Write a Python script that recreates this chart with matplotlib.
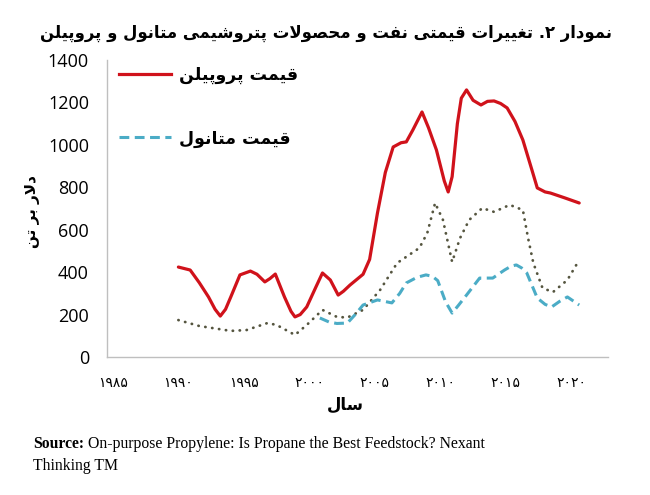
import matplotlib
matplotlib.use("Agg")
import matplotlib.pyplot as plt
from matplotlib.lines import Line2D

# ---------------- Arabic/Persian shaping (presentation forms) ----------------
FORMS = {  # iso, fin, ini, med
    '\u0627': ('\uFE8D', '\uFE8E', None, None),
    '\u0628': ('\uFE8F', '\uFE90', '\uFE91', '\uFE92'),
    '\u062A': ('\uFE95', '\uFE96', '\uFE97', '\uFE98'),
    '\u062D': ('\uFEA1', '\uFEA2', '\uFEA3', '\uFEA4'),
    '\u062F': ('\uFEA9', '\uFEAA', None, None),
    '\u0631': ('\uFEAD', '\uFEAE', None, None),
    '\u0633': ('\uFEB1', '\uFEB2', '\uFEB3', '\uFEB4'),
    '\u0634': ('\uFEB5', '\uFEB6', '\uFEB7', '\uFEB8'),
    '\u0635': ('\uFEB9', '\uFEBA', '\uFEBB', '\uFEBC'),
    '\u063A': ('\uFECD', '\uFECE', '\uFECF', '\uFED0'),
    '\u0641': ('\uFED1', '\uFED2', '\uFED3', '\uFED4'),
    '\u0642': ('\uFED5', '\uFED6', '\uFED7', '\uFED8'),
    '\u0644': ('\uFEDD', '\uFEDE', '\uFEDF', '\uFEE0'),
    '\u0645': ('\uFEE1', '\uFEE2', '\uFEE3', '\uFEE4'),
    '\u0646': ('\uFEE5', '\uFEE6', '\uFEE7', '\uFEE8'),
    '\u0648': ('\uFEED', '\uFEEE', None, None),
    '\u067E': ('\uFB56', '\uFB57', '\uFB58', '\uFB59'),
    '\u06CC': ('\uFBFC', '\uFBFD', '\uFBFE', '\uFBFF'),
}


def dual(c):
    return c in FORMS and FORMS[c][2] is not None


def shape(text):
    out = []
    chars = list(text)
    i = 0
    n = len(chars)
    while i < n:
        c = chars[i]
        if c not in FORMS:
            out.append(c)
            i += 1
            continue
        prev = chars[i - 1] if i > 0 else None
        cp = prev is not None and dual(prev)
        if c == '\u0644' and i + 1 < n and chars[i + 1] == '\u0627':
            out.append('\uFEFC' if cp else '\uFEFB')
            i += 2
            continue
        nxt = chars[i + 1] if i + 1 < n else None
        cn = dual(c) and nxt is not None and nxt in FORMS
        iso, fin, ini, med = FORMS[c]
        if cp and cn:
            out.append(med)
        elif cp:
            out.append(fin)
        elif cn:
            out.append(ini)
        else:
            out.append(iso)
        i += 1
    return ''.join(out)[::-1]


# ---------------- data ----------------
title_text = "نمودار ۲. تغییرات قیمتی نفت و محصولات پتروشیمی متانول و پروپیلن"
propylene_label = "قیمت پروپیلن"
methanol_label = "قیمت متانول"
x_label = "سال"
y_label = "دلار بر تن"
x_ticks = [1985, 1990, 1995, 2000, 2005, 2010, 2015, 2020]
x_tick_labels = ["۱۹۸۵", "۱۹۹۰", "۱۹۹۵", "۲۰۰۰", "۲۰۰۵", "۲۰۱۰", "۲۰۱۵", "۲۰۲۰"]
y_ticks = [0, 200, 400, 600, 800, 1000, 1200, 1400]

propylene_years = [1990.0, 1990.9, 1991.6, 1992.3, 1992.8, 1993.2, 1993.6, 1994.0, 1994.7, 1995.5,
                   1996.0, 1996.6, 1997.0, 1997.4, 1998.1, 1998.6, 1998.9, 1999.3, 1999.8, 2000.5,
                   2001.0, 2001.6, 2002.2, 2002.6, 2003.1, 2004.1, 2004.6, 2005.2, 2005.8, 2006.4,
                   2007.0, 2007.4, 2007.9, 2008.6, 2009.1, 2009.7, 2010.3, 2010.6, 2010.9, 2011.3,
                   2011.6, 2012.0, 2012.5, 2013.1, 2013.6, 2014.1, 2014.6, 2015.1, 2015.7, 2016.3,
                   2017.0, 2017.4, 2018.0, 2018.4, 2019.5, 2020.6]
propylene_prices = [424, 410, 350, 283, 225, 193, 225, 283, 387, 405,
                    390, 354, 370, 391, 283, 215, 189, 200, 236, 330,
                    396, 363, 292, 310, 339, 390, 460, 679, 870, 990,
                    1010, 1014, 1070, 1155, 1080, 976, 830, 778, 850, 1100,
                    1220, 1259, 1210, 1188, 1205, 1207, 1195, 1174, 1110, 1023,
                    880, 797, 778, 773, 750, 726]

methanol_years = [2000.8, 2001.5, 2002.1, 2002.9, 2003.5, 2004.1, 2005.2, 2006.3, 2006.9, 2007.4,
                  2008.2, 2008.9, 2009.4, 2009.8, 2010.4, 2010.9, 2011.4, 2012.0, 2013.0, 2014.0,
                  2014.9, 2015.4, 2015.8, 2016.2, 2016.6, 2017.4, 2018.0, 2018.5, 2019.1, 2019.7,
                  2020.6]
methanol_prices = [184, 165, 158, 160, 200, 245, 269, 255, 300, 349,
                   375, 387, 380, 360, 260, 207, 245, 292, 372, 372,
                   410, 428, 434, 420, 396, 278, 248, 236, 262, 283,
                   245]

oil_years = [1990.0, 1991.6, 1994.0, 1995.2, 1996.8, 1997.5, 1998.9, 1999.8,
             2001.0, 2002.1, 2002.9, 2004.1, 2005.4, 2006.7, 2008.4, 2009.0,
             2009.6, 2010.2, 2010.9, 2011.5, 2012.2, 2013.2, 2014.1, 2015.3, 2016.3,
             2016.7, 2017.1, 2017.8, 2018.6, 2019.7, 2020.6]
oil_prices = [174, 146, 123, 127, 160, 151, 104, 151,
              222, 189, 186, 222, 316, 443, 514, 584,
              726, 646, 448, 560, 646, 702, 684, 717, 693,
              560, 443, 325, 306, 363, 457]

# ---------------- figure ----------------
W, H = 650, 495
fig = plt.figure(figsize=(W / 100, H / 100), dpi=100)
ax = fig.add_axes([107 / W, 1 - 357 / H, (608 - 107) / W, (357 - 60) / H])

red = '#d0121b'
blue = '#4bacc6'
olive = '#55553f'
dash_style = (0, (3.2, 1.8))

ax.plot(oil_years, oil_prices, color=olive, lw=2.0, linestyle=(0, (0.1, 2.4)),
        dash_capstyle='round')
ax.plot(methanol_years, methanol_prices, color=blue, lw=2.2, linestyle=dash_style)
ax.plot(propylene_years, propylene_prices, color=red, lw=2.3, solid_joinstyle='round',
        solid_capstyle='round')

ax.set_xlim(1984.55, 2022.8)
ax.set_ylim(0, 1400)
ax.set_yticks(y_ticks)
ax.set_yticklabels([str(v) for v in y_ticks], fontfamily='Open Sans', fontsize=13)
ax.set_xticks(x_ticks)
ax.set_xticklabels(x_tick_labels, fontfamily='DejaVu Sans', fontsize=10)
ax.tick_params(axis='both', length=0)
ax.tick_params(axis='y', pad=13)
ax.tick_params(axis='x', pad=14)
for s in ['top', 'right']:
    ax.spines[s].set_visible(False)
for s in ['left', 'bottom']:
    ax.spines[s].set_color('#bfbfbf')
    ax.spines[s].set_linewidth(1.0)

handles = [Line2D([], [], color=red, lw=2.3),
           Line2D([], [], color=blue, lw=2.2, linestyle=dash_style)]
leg = ax.legend(handles, [shape(propylene_label), shape(methanol_label)],
                loc='upper left', bbox_to_anchor=(0.0, 1.02), frameon=False,
                prop={'family': 'DejaVu Sans', 'weight': 'bold', 'size': 12.5},
                handlelength=3.0, handletextpad=0.45, labelspacing=2.6,
                borderaxespad=0.3)

title = fig.text(326 / W, 1 - 33 / H, shape(title_text), ha='center', va='center',
                 fontfamily='DejaVu Sans', fontweight='bold', fontsize=15)
fig.text(345 / W, 1 - 405 / H, shape(x_label), ha='center', va='center',
         fontfamily='DejaVu Sans', fontweight='bold', fontsize=12)
fig.text(32 / W, 1 - 211 / H, shape(y_label), ha='center', va='center', rotation=90,
         fontfamily='DejaVu Sans', fontweight='bold', fontsize=11)

# fit title width to reference (~572 px)
fig.canvas.draw()
tw = title.get_window_extent().width
title.set_fontsize(15 * 572 / tw)

# source
src_bold = fig.text(33 / W, 1 - 448 / H, "Source:", ha='left', va='baseline',
                    fontfamily='Liberation Serif', fontweight='bold', fontsize=11.3)
fig.canvas.draw()
bb = src_bold.get_window_extent()
fig.text((bb.x1 + 4) / W, 1 - 448 / H,
         "On-purpose Propylene: Is Propane the Best Feedstock? Nexant",
         ha='left', va='baseline', fontfamily='Liberation Serif', fontsize=11.3)
fig.text(33 / W, 1 - 470 / H, "Thinking TM", ha='left', va='baseline',
         fontfamily='Liberation Serif', fontsize=11.3)

fig.savefig('out.png', dpi=100)
